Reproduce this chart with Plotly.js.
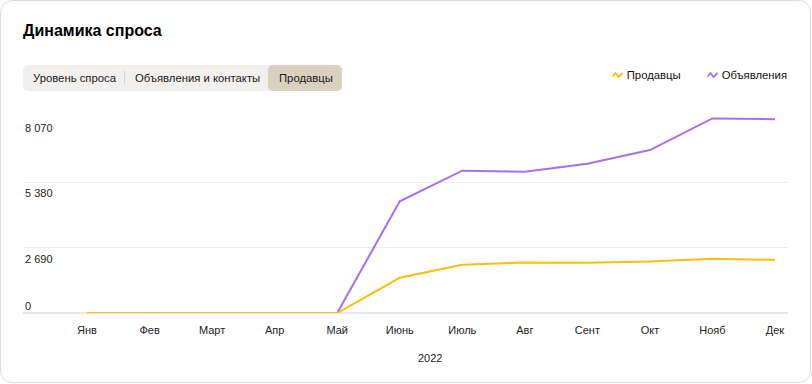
<!DOCTYPE html>
<html>
<head>
<meta charset="utf-8">
<script src="https://cdn.plot.ly/plotly-3.0.1.min.js"></script>
<style>
  html, body { margin:0; padding:0; background:#fff; }
  body { width:812px; height:384px; position:relative; overflow:hidden; font-family: Arial, "Liberation Sans", sans-serif; }
  #card { position:absolute; left:0; top:0; width:809px; height:381px; border:1.5px solid #dadce2; border-radius:12px; background:#fff; }
  #title { position:absolute; left:23px; top:20px; font-size:16px; font-weight:bold; color:#000; line-height:22px; }
  #tabs { position:absolute; left:23px; top:65px; height:26px; width:319px; background:#f1f0ee; border-radius:5px; font-size:11.3px; color:#1a1a1a; }
  .tab { position:absolute; top:0; height:26px; line-height:26px; }
  #sep { position:absolute; left:101px; top:6px; width:1px; height:14px; background:#d8d6d2; }
  #sel { position:absolute; left:245px; top:0; width:74px; height:26px; background:#d9d1bf; border-radius:5px; }
  #plot { position:absolute; left:0; top:0; width:812px; height:384px; }
  #legend { position:absolute; top:69px; right:25px; font-size:11.3px; color:#111; display:flex; align-items:center; }
  .li { display:flex; align-items:center; }
  .li svg { margin-right:4px; }
</style>
</head>
<body>
<div id="card"></div>
<div id="title">Динамика спроса</div>
<div id="tabs">
  <div id="sel"></div>
  <div class="tab" style="left:10px">Уровень спроса</div>
  <div id="sep"></div>
  <div class="tab" style="left:112px">Объявления и контакты</div>
  <div class="tab" style="left:256px">Продавцы</div>
</div>
<div id="plot"></div>
<div id="legend"></div>
<script>
const months = ["Янв","Фев","Март","Апр","Май","Июнь","Июль","Авг","Сент","Окт","Нояб","Дек"];
const sellers = [0,0,0,0,0,1450,1984,2082,2066,2123,2230,2189];
const listings = [0,0,0,0,0,4600,5861,5820,6148,6707,8009,7980];
const yTickVals = [0,2690,5380,8070];
const yTickText = ["0","2 690","5 380","8 070"];
const yearLabel = "2022";
const seriesNames = ["Продавцы","Объявления"];
const seriesColors = ["#f9bf0a","#a46ff6"];

// legend (HTML with squiggle icons)
const leg = document.getElementById('legend');
seriesNames.forEach((n,i)=>{
  const d = document.createElement('div');
  d.className='li';
  d.style.marginLeft = i ? '26px' : '0';
  d.innerHTML = '<svg width="11" height="8" viewBox="0 0 11 8"><path d="M1 5 L3.5 2 L6.5 6 L10 2.5" fill="none" stroke="'+seriesColors[i]+'" stroke-width="1.8" stroke-linejoin="round" stroke-linecap="round"/></svg><span>'+n+'</span>';
  leg.appendChild(d);
});

const xIdx = months.map((m,i)=>i);
const traces = [
  {x:xIdx, y:sellers, name:seriesNames[0], mode:'lines', line:{color:seriesColors[0], width:2}, hoverinfo:'skip'},
  {x:xIdx, y:listings, name:seriesNames[1], mode:'lines', line:{color:seriesColors[1], width:2}, hoverinfo:'skip'}
];
// yellow drawn on top in the flat region
traces.reverse();

const annotations = yTickVals.map((v,i)=>({
  xref:'paper', yref:'y', x:0, y:v, xanchor:'left', yanchor:'middle',
  text:yTickText[i], showarrow:false, yshift: v===0 ? 7 : -11,
  font:{size:11, color:'#222', family:'Arial, "Liberation Sans", sans-serif'}
}));
annotations.push({xref:'paper', yref:'paper', x:(430-23)/765, y:0, xanchor:'center', yanchor:'middle', yshift:-45,
  text:yearLabel, showarrow:false, font:{size:11, color:'#222', family:'Arial, "Liberation Sans", sans-serif'}});

const layout = {
  width:812, height:384,
  margin:{l:23, r:24, t:117, b:71, pad:0},
  paper_bgcolor:'rgba(0,0,0,0)', plot_bgcolor:'rgba(0,0,0,0)',
  showlegend:false,
  font:{family:'Arial, "Liberation Sans", sans-serif', size:11, color:'#222'},
  xaxis:{
    range:[-1.024, 11.208], tickvals:xIdx, ticktext:months, showgrid:false, zeroline:false,
    showline:false, ticks:'', tickfont:{size:11, color:'#222'}, ticklabelstandoff:9, fixedrange:true
  },
  yaxis:{
    range:[0,8070], tickvals:yTickVals, showticklabels:false, showgrid:true, gridcolor:'#ebebeb', gridwidth:1,
    zeroline:true, zerolinecolor:'#e6e6e6', zerolinewidth:2, showline:false, ticks:'', fixedrange:true
  },
  annotations:annotations
};
Plotly.newPlot('plot', traces, layout, {displayModeBar:false, staticPlot:true});
</script>
</body>
</html>
